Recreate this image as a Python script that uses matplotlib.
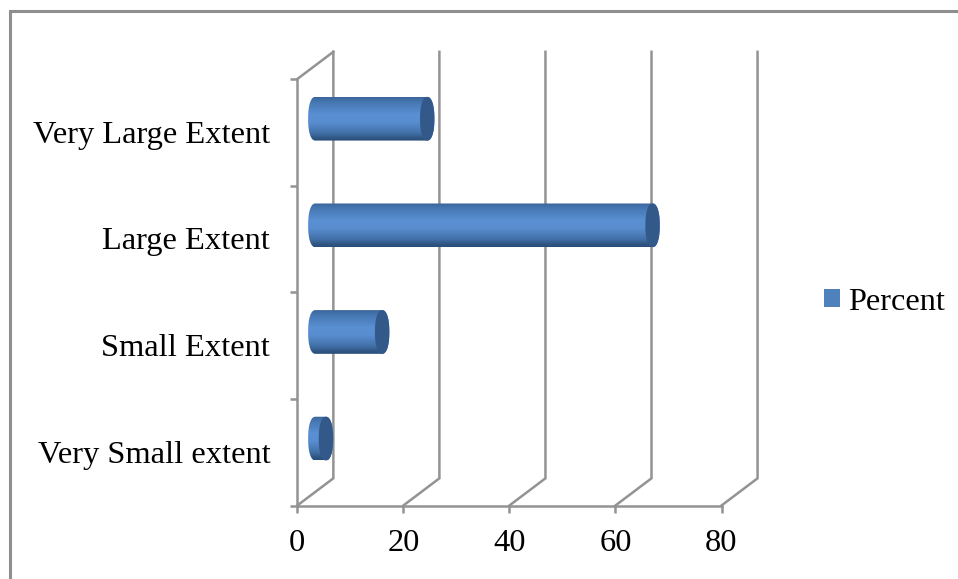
import numpy as np
import matplotlib
matplotlib.use('Agg')
import matplotlib.pyplot as plt
from matplotlib.colors import LinearSegmentedColormap
from matplotlib.lines import Line2D
from matplotlib.patches import Patch, PathPatch
from matplotlib.path import Path

plt.rcParams['font.family'] = ['Liberation Serif', 'DejaVu Serif']

categories = ['Very Small extent', 'Small Extent', 'Large Extent', 'Very Large Extent']
percent = [2.0, 12.6, 63.6, 21.1]
x_ticks = [0, 20, 40, 60, 80]
series_name = 'Percent'

GREY = '#939393'
FONT = 23.4
LW = 1.8
# 3d wall depth, in axis units
DEPTH_X = 6.8
DEPTH_Y = 0.255
# cylinder radii
RAD_X = 1.36
RAD_Y = 0.205


def rounded_end(angles, xc, yc, n=2.25):
    # superellipse arc, the cylinder ends look slightly squared off
    xs = xc + RAD_X * np.sign(np.cos(angles)) * np.abs(np.cos(angles)) ** (2 / n)
    ys = yc + RAD_Y * np.sign(np.sin(angles)) * np.abs(np.sin(angles)) ** (2 / n)
    return xs, ys


W, H = 958, 579
fig = plt.figure(figsize=(W / 100, H / 100), dpi=100)
ax = fig.add_axes([297.3 / W, 1 - 505.5 / H, (721.5 - 297.3) / W, (505.5 - 79) / H])

ax.set_xlim(0, 80)
ax.set_ylim(-0.5, 3.5)
ax.set_xticks(x_ticks)
ax.set_yticks(np.arange(-0.5, 4, 1))
ax.set_yticklabels([])
ax.tick_params(axis='both', color=GREY, width=LW, length=5, labelsize=FONT, pad=12)
for name in ['top', 'right']:
    ax.spines[name].set_visible(False)
for name in ['left', 'bottom']:
    ax.spines[name].set_color(GREY)
    ax.spines[name].set_linewidth(LW)

# category labels sit between the ticks
for i, c in enumerate(categories):
    ax.annotate(c, (0, i), xycoords=ax.get_yaxis_transform(), xytext=(-27, -3),
                textcoords='offset pixels', ha='right', va='center', fontsize=FONT)

# back wall gridlines with their slanted floor lines
for t in x_ticks:
    ax.plot([t, t + DEPTH_X, t + DEPTH_X], [-0.5, -0.5 + DEPTH_Y, 3.5 + DEPTH_Y],
            color=GREY, lw=LW, clip_on=False, solid_joinstyle='miter', zorder=1)
ax.plot([0, DEPTH_X], [3.5, 3.5 + DEPTH_Y], color=GREY, lw=LW, clip_on=False, zorder=1)

# cylinders
cyl_cmap = LinearSegmentedColormap.from_list('cyl', [
    (0.0, '#3b659a'), (0.12, '#4678b3'), (0.4, '#5a90d4'), (0.58, '#588dcf'),
    (0.82, '#4271a8'), (0.93, '#315786'), (1.0, '#294d79')])
grad = np.linspace(0, 1, 128).reshape(-1, 1)

for i, v in enumerate(percent):
    x0 = DEPTH_X / 2
    x1 = x0 + v
    yc = i + DEPTH_Y / 2
    # outline: left half of the base end, then right half of the far end
    lx, ly = rounded_end(np.linspace(np.pi / 2, 3 * np.pi / 2, 60), x0, yc)
    rx, ry = rounded_end(np.linspace(-np.pi / 2, np.pi / 2, 60), x1, yc)
    clip = PathPatch(Path(np.column_stack([np.r_[lx, rx], np.r_[ly, ry]])),
                     transform=ax.transData, fc='none', ec='none')
    ax.add_patch(clip)
    im = ax.imshow(grad, cmap=cyl_cmap, aspect='auto', zorder=3, origin='upper',
                   extent=[x0 - RAD_X, x1 + RAD_X, yc - RAD_Y, yc + RAD_Y])
    im.set_clip_path(clip)
    cx, cy = rounded_end(np.linspace(0, 2 * np.pi, 120), x1, yc)
    ax.fill(cx, cy, fc='#32598a', ec='none', zorder=4)

ax.set_xlim(0, 80)
ax.set_ylim(-0.5, 3.5)

fig.legend(handles=[Patch(fc='#4f81bd', ec='none', label=series_name)],
           loc='center left', bbox_to_anchor=(817.6 / W, 1 - 302 / H), frameon=False,
           fontsize=23.2, handlelength=0.5, handleheight=0.5, handletextpad=0.25,
           borderpad=0.2, borderaxespad=0)

# outer chart frame, open on the right and at the bottom
fig.add_artist(Line2D([9.5 / W, 9.5 / W, 1], [0, 1 - 10.5 / H, 1 - 10.5 / H],
                      color='#8e8e8e', lw=2.2, solid_joinstyle='miter'))

fig.savefig('out.png', dpi=100)
